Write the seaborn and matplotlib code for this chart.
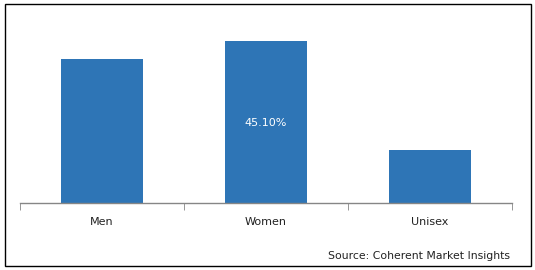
import matplotlib
matplotlib.use("Agg")
import matplotlib.pyplot as plt
import seaborn as sns
from matplotlib.patches import Rectangle

# Share by product type (%).
categories = ["Men", "Women", "Unisex"]
shares = [40.1, 45.1, 14.8]
shown_label = {"Women": "45.10%"}

sns.set_style("white")
plt.rcParams["font.family"] = ["DejaVu Sans"]

fig = plt.figure(figsize=(5.35, 2.7), dpi=100)
ax = fig.add_axes([20 / 535, 67 / 270, 492 / 535, 180 / 270])

sns.barplot(x=categories, y=shares, color="#2E75B6", saturation=1,
            width=0.5, linewidth=0, ax=ax)

ax.set_xlim(-0.5, 2.5)
ax.set_ylim(0, 50)
ax.set_yticks([])
for side in ["top", "right", "left"]:
    ax.spines[side].set_visible(False)
ax.spines["bottom"].set_color("#868686")
ax.spines["bottom"].set_linewidth(1)

# Tick marks sit between categories, labels sit under the bars.
ax.set_xticks([-0.5, 0.5, 1.5, 2.5], minor=True)
ax.tick_params(axis="x", which="minor", length=5, color="#868686",
               direction="out", bottom=True)
ax.tick_params(axis="x", which="major", length=0, pad=10,
               labelsize=8, labelcolor="#222222")

for i, cat in enumerate(categories):
    if cat in shown_label:
        ax.text(i, shares[i] * 0.49, shown_label[cat], ha="center",
                va="center", color="white", fontsize=8)

fig.text(510 / 535, 1 - 256 / 270, "Source: Coherent Market Insights",
         ha="right", va="center", fontsize=7.8, color="#222222")

fig.patches.append(Rectangle((5 / 535, 4 / 270), 526 / 535, 262 / 270,
                             transform=fig.transFigure, fill=False,
                             edgecolor="black", linewidth=1))

fig.savefig("out.png", dpi=100)
